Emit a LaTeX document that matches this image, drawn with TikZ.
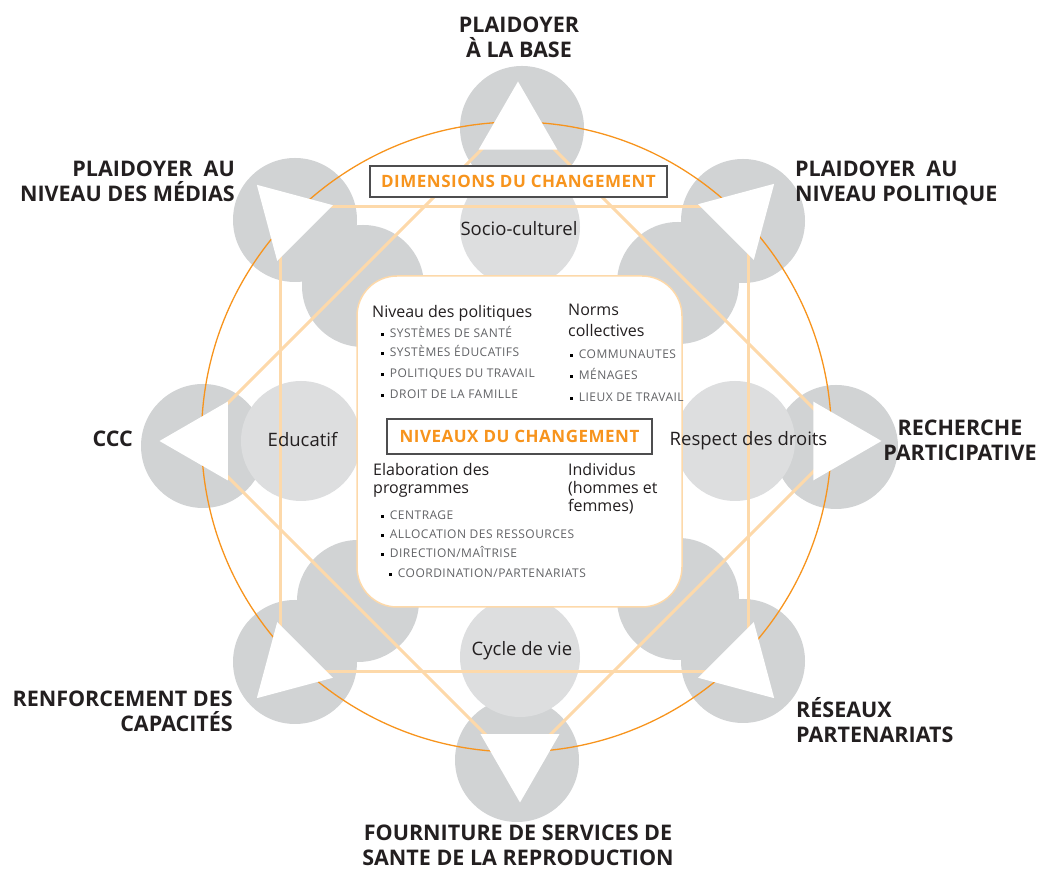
\documentclass[tikz,border=0pt]{standalone}
\usepackage{fontspec}
\setmainfont{Open Sans}
\newfontfamily\spacedfont{Open Sans}[LetterSpace=4]
\newfontfamily\trackedfont{Open Sans}[LetterSpace=3]
\usepackage{tikz}
\usetikzlibrary{shapes.geometric, positioning}

\definecolor{ringorange}{RGB}{247,148,29}
\definecolor{peach}{RGB}{253,217,170}
\definecolor{disc}{RGB}{209,211,212}
\definecolor{disclight}{RGB}{221,222,223}
\definecolor{boxgray}{RGB}{77,77,79}
\definecolor{itemgray}{RGB}{98,99,102}
\definecolor{ink}{RGB}{35,31,32}

\newcommand{\sqbul}{\textcolor{black}{\rule[2.4pt]{2.7pt}{2.7pt}}\hspace{6pt}}

\tikzset{
	outerdisc/.style={circle, fill=disc, minimum size=124pt, inner sep=0pt},
	innerdisc/.style={circle, fill=disc, minimum size=122pt, inner sep=0pt},
	softdisc/.style={circle, fill=disclight, minimum size=120pt, inner sep=0pt},
	arrowtri/.style={regular polygon, regular polygon sides=3, fill=white, minimum size=91pt, inner sep=0pt},
	star/.style={draw=peach, line width=3pt},
	heading/.style={draw=boxgray, line width=1.2pt, fill=white, text=ringorange, font=\trackedfont\bfseries\fontsize{17}{20}\selectfont, inner sep=0pt},
	bigtag/.style={font=\bfseries\fontsize{21.5}{25}\selectfont, text=ink, inner sep=0pt},
	dimtag/.style={font=\fontsize{18.5}{22}\selectfont, text=ink, inner sep=0pt, anchor=base},
	level/.style={font=\fontsize{16}{18}\selectfont, text=ink, inner sep=0pt, anchor=base west, align=left},
	item/.style={font=\spacedfont\fontsize{12}{14}\selectfont, text=itemgray, inner sep=0pt, anchor=base west}
}

\begin{document}
\begin{tikzpicture}[x=1pt, y=1pt]

\useasboundingbox (0,0) rectangle (1042,872);

% outer discs
\node [outerdisc] (oN)  at (522,744) {};
\node [outerdisc] (oNE) at (743,651) {};
\node [outerdisc] (oE)  at (836,425) {};
\node [outerdisc] (oSE) at (743,211) {};
\node [outerdisc] (oS)  at (517,112) {};
\node [outerdisc] (oSW) at (295,210) {};
\node [outerdisc] (oW)  at (203,426) {};
\node [outerdisc] (oNW) at (295,652) {};

% inner discs
\node [softdisc] (socio)  at (520,645) {};
\node [softdisc] (educ)   at (301,431) {};
\node [softdisc] (droits) at (735,431) {};
\node [softdisc] (cycle)  at (520,215) {};
\node [innerdisc] (iNW) at (363,586) {};
\node [innerdisc] (iNE) at (678,589) {};
\node [innerdisc] (iSW) at (358,271) {};
\node [innerdisc] (iSE) at (678,273) {};

\node [circle, draw=ringorange, line width=1.3pt, minimum size=630pt, inner sep=0pt] (ring) at (516.5,435) {};

% eight-pointed star
\coordinate (sqNW) at (280,665);
\coordinate (sqNE) at (748,665);
\coordinate (sqSE) at (748,200);
\coordinate (sqSW) at (280,200);
\coordinate (dmN) at (518,759);
\coordinate (dmE) at (845,432);
\coordinate (dmS) at (518,105);
\coordinate (dmW) at (191,432);
\draw [star] (sqNW) -- (sqNE) -- (sqSE) -- (sqSW) -- cycle;
\draw [star] (dmN) -- (dmE) -- (dmS) -- (dmW) -- cycle;

% triangles
\node [arrowtri] (tN)  at (518,745) {};
\node [arrowtri, rotate=-45] (tNE) at (742,656) {};
\node [arrowtri, rotate=-90] (tE)  at (836,431) {};
\node [arrowtri, rotate=-135] (tSE) at (742,206) {};
\node [arrowtri, rotate=180] (tS)  at (520,115) {};
\node [arrowtri, rotate=135] (tSW) at (289,206) {};
\node [arrowtri, rotate=90] (tW)  at (205,431) {};
\node [arrowtri, rotate=45] (tNW) at (289,655) {};

% centre
\node [draw=peach, line width=1.5pt, fill=white, rounded corners=40pt, minimum width=325pt, minimum height=331pt, inner sep=0pt] (levels) at (519.5,430.5) {};

\node [heading, minimum width=297pt, minimum height=31pt] (dimensions) at (518.5,690.5) {DIMENSIONS DU CHANGEMENT};
\node [heading, minimum width=265pt, minimum height=35pt] (niveaux) at (519.5,435.5) {NIVEAUX DU CHANGEMENT};

\node [dimtag] (socioT)  at (519,636) {Socio-culturel};
\node [dimtag] (educT)   at (302.5,425) {Educatif};
\node [dimtag] (droitsT) at (748.5,426) {Respect des droits};
\node [dimtag] (cycleT)  at (522,216) {Cycle de vie};

\node [level] (politiques) at (372,554) {Niveau des politiques};
\foreach \txt/\yy [count=\i] in {SYSTÈMES DE SANTÉ/534, SYSTÈMES ÉDUCATIFS/515, POLITIQUES DU TRAVAIL/494, DROIT DE LA FAMILLE/473}
	\node [item] (pol\i) at (381,\yy) {\sqbul\txt};

\node [level, font=\fontsize{16}{21}\selectfont] (normes) at (568,535) {Norms\\collectives};
\foreach \txt/\yy [count=\i] in {COMMUNAUTES/513, MÉNAGES/492, LIEUX DE TRAVAIL/470}
	\node [item] (norm\i) at (570,\yy) {\sqbul\txt};

\node [level] (programmes) at (373,378) {Elaboration des\\programmes};
\foreach \txt/\xx/\yy [count=\i] in {{CENTRAGE}/381/352, {ALLOCATION DES RESSOURCES}/381/333, {DIRECTION/MAÎTRISE}/381/314, {COORDINATION/PARTENARIATS}/389/294}
	\node [item] (prog\i) at (\xx,\yy) {\sqbul\txt};

\node [level] (individus) at (568,360) {Individus\\(hommes et\\femmes)};

% outer labels
\node [bigtag, anchor=base, align=center] (base) at (519,814) {PLAIDOYER\\À LA BASE};
\node [bigtag, anchor=base west, align=left] (politique) at (795,670) {PLAIDOYER\ \ AU\\NIVEAU POLITIQUE};
\node [bigtag, anchor=base east, align=right] (medias) at (235,670) {PLAIDOYER\ \ AU\\NIVEAU DES MÉDIAS};
\node [bigtag, anchor=base east] (ccc) at (133,425) {CCC};
\node [bigtag, anchor=base, align=center] (recherche) at (960,411) {RECHERCHE\\PARTICIPATIVE};
\node [bigtag, anchor=base west, align=left] (reseaux) at (796,129) {RÉSEAUX\\PARTENARIATS};
\node [bigtag, anchor=base east, align=right] (capacites) at (233,140) {RENFORCEMENT DES\\CAPACITÉS};
\node [bigtag, anchor=base, align=center] (fourniture) at (518,6) {FOURNITURE DE SERVICES DE\\SANTE DE LA REPRODUCTION};

\end{tikzpicture}
\end{document}
